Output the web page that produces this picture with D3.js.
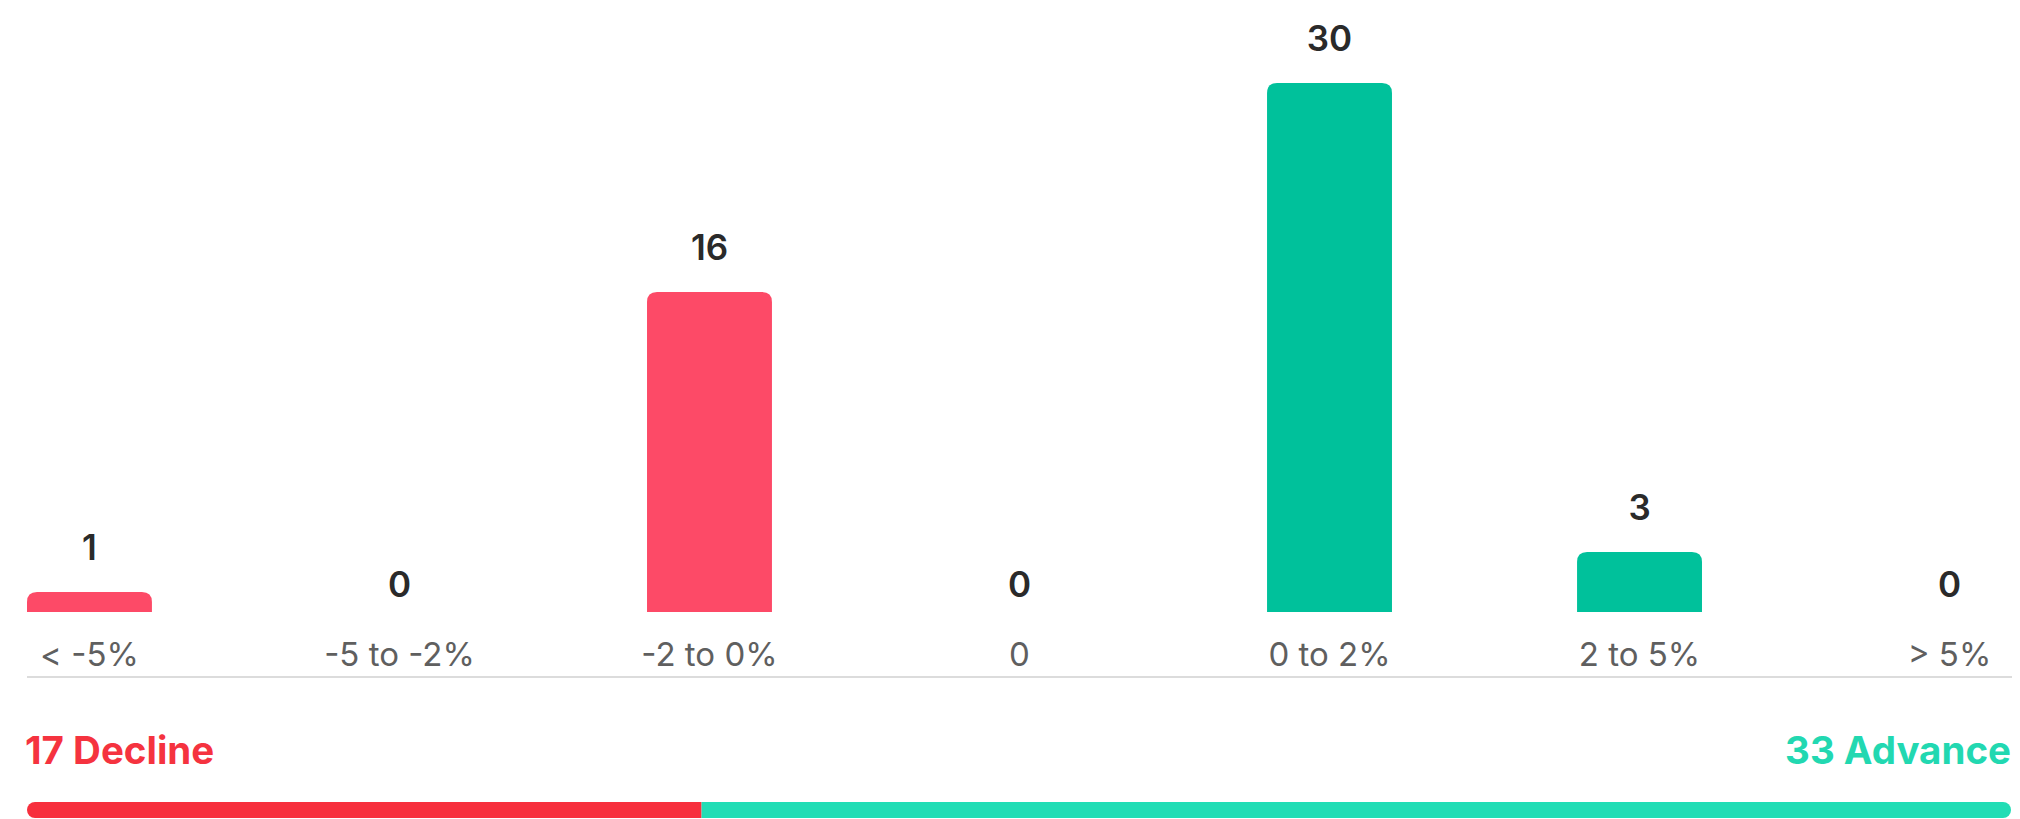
<!DOCTYPE html>
<html><head><meta charset="utf-8">
<script src="https://cdn.jsdelivr.net/npm/d3@7"></script>
<style>html,body{margin:0;padding:0;background:#fff;overflow:hidden}</style>
</head><body>
<script>
const categories = ["< -5%", "-5 to -2%", "-2 to 0%", "0", "0 to 2%", "2 to 5%", "> 5%"];
const counts = [1, 0, 16, 0, 30, 3, 0];
const barColors = ["#FD4A67", "#FD4A67", "#FD4A67", "#FD4A67", "#00C19B", "#00C19B", "#00C19B"];
const declineCount = 17;
const advanceCount = 33;
const declineLabel = "Decline";
const advanceLabel = "Advance";

const W = 2020, H = 819;
const svg = d3.select("body").append("svg").attr("width", W).attr("height", H);
const font = "Inter, 'Noto Sans', sans-serif";

const x = d3.scaleBand().domain(categories).range([27, 2012]).paddingInner(0.597).paddingOuter(0);
const y = d3.scaleLinear().domain([0, 26.45]).range([612, 83]).clamp(true);
const r = 10;

function barPath(x0, w, top, bottom) {
  const h = bottom - top;
  const rr = Math.min(r, h, w / 2);
  return `M${x0},${bottom} L${x0},${top + rr} Q${x0},${top} ${x0 + rr},${top} L${x0 + w - rr},${top} Q${x0 + w},${top} ${x0 + w},${top + rr} L${x0 + w},${bottom} Z`;
}

const data = categories.map((c, i) => ({ c, v: counts[i], col: barColors[i] }));

svg.append("g").selectAll("path").data(data.filter(d => d.v > 0)).join("path")
  .attr("d", d => barPath(x(d.c), x.bandwidth(), y(d.v), y(0)))
  .attr("fill", d => d.col);

svg.append("g").selectAll("text").data(data).join("text")
  .attr("x", d => x(d.c) + x.bandwidth() / 2)
  .attr("y", d => d.v > 0 ? y(d.v) - 32 : y(0) - 15)
  .attr("text-anchor", "middle")
  .attr("font-family", font).attr("font-size", 35).attr("font-weight", 600)
  .attr("fill", "#2a2a2a")
  .text(d => d.v);

// category axis
const axis = d3.axisBottom(x).tickSize(0).tickPadding(0);
const gAxis = svg.append("g").attr("transform", "translate(0,677)").call(axis);
gAxis.select(".domain").attr("stroke", "#dcdcdc").attr("stroke-width", 2)
  .attr("d", `M27,0H2012`);
gAxis.selectAll(".tick text")
  .attr("y", -11).attr("dy", 0)
  .attr("font-family", font).attr("font-size", 33).attr("fill", "#5f5f5f");

// summary
const total = declineCount + advanceCount;
const sx = d3.scaleLinear().domain([0, total]).range([27, 2011]);
svg.append("text").attr("x", 25).attr("y", 764)
  .attr("font-family", font).attr("font-size", 38.5).attr("font-weight", 700)
  .attr("fill", "#F5333F").text(declineCount + " " + declineLabel);
svg.append("text").attr("x", 2011).attr("y", 764).attr("text-anchor", "end")
  .attr("font-family", font).attr("font-size", 38.5).attr("font-weight", 700)
  .attr("fill", "#22D8B1").text(advanceCount + " " + advanceLabel);

const barY = 802, barH = 16;
svg.append("defs").append("clipPath").attr("id", "clipbar")
  .append("rect").attr("x", sx(0)).attr("y", barY).attr("width", sx(total) - sx(0)).attr("height", barH).attr("rx", 8);
const gb = svg.append("g").attr("clip-path", "url(#clipbar)");
gb.append("rect").attr("x", sx(0)).attr("y", barY).attr("width", sx(declineCount) - sx(0)).attr("height", barH).attr("fill", "#F72F3D");
gb.append("rect").attr("x", sx(declineCount)).attr("y", barY).attr("width", sx(total) - sx(declineCount)).attr("height", barH).attr("fill", "#21DDB5");
</script>
</body></html>
